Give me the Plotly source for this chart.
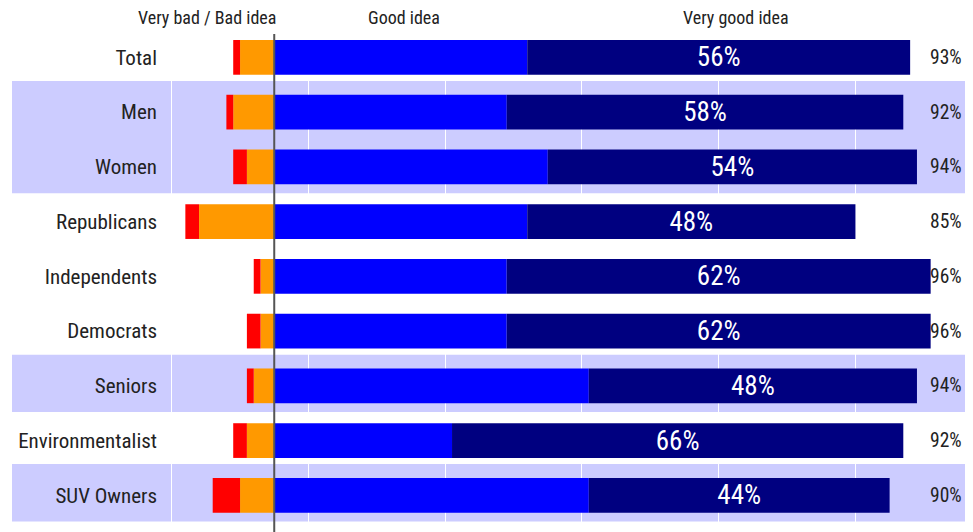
import plotly.graph_objects as go

categories = ["Total", "Men", "Women", "Republicans", "Independents",
              "Democrats", "Seniors", "Environmentalist", "SUV Owners"]
very_bad = [1, 1, 2, 2, 1, 2, 1, 2, 4]
bad = [5, 6, 4, 11, 2, 2, 3, 4, 5]
good = [37, 34, 40, 37, 34, 34, 46, 26, 46]
very_good = [56, 58, 54, 48, 62, 62, 48, 66, 44]
total_good = [93, 92, 94, 85, 96, 96, 94, 92, 90]
headers = ["Very bad / Bad idea", "Good idea", "Very good idea"]
band_groups = [("Men", "Women"), ("Seniors", "Seniors"), ("SUV Owners", "SUV Owners")]

FONT = "Liberation Sans Narrow, Arial Narrow, Roboto Condensed, DejaVu Sans Condensed, sans-serif"
C_RED, C_ORANGE, C_BLUE, C_NAVY = "#FF0000", "#FF9900", "#0000FF", "#000080"
BAND = "#CCCCFF"

fig = go.Figure()
fig.add_trace(go.Bar(y=categories, x=[-v for v in bad], orientation="h",
                     marker=dict(color=C_ORANGE, line=dict(width=0)), name="Bad idea",
                     hoverinfo="skip"))
fig.add_trace(go.Bar(y=categories, x=[-v for v in very_bad], orientation="h",
                     marker=dict(color=C_RED, line=dict(width=0)), name="Very bad idea",
                     hoverinfo="skip"))
fig.add_trace(go.Bar(y=categories, x=good, orientation="h",
                     marker=dict(color=C_BLUE, line=dict(width=0)), name="Good idea",
                     hoverinfo="skip"))
fig.add_trace(go.Bar(y=categories, x=very_good, orientation="h",
                     marker=dict(color=C_NAVY, line=dict(width=0)), name="Very good idea",
                     text=[f"{v}%" for v in very_good], textposition="inside",
                     insidetextanchor="middle", constraintext="none",
                     textfont=dict(color="white", size=27, family=FONT),
                     hoverinfo="skip"))

shapes = []
for a, b in band_groups:
    ia, ib = categories.index(a), categories.index(b)
    shapes.append(dict(type="rect", xref="paper", yref="y", x0=-0.1825, x1=1.02,
                       y0=ia - 0.57, y1=ib + 0.48, fillcolor=BAND,
                       line=dict(width=0), layer="below"))
shapes.append(dict(type="line", xref="x", yref="paper", x0=0, x1=0, y0=0, y1=0.992,
                   line=dict(color="#555555", width=2), layer="above"))

annotations = []
for cat, t in zip(categories, total_good):
    annotations.append(dict(xref="paper", yref="y", x=1.0, y=cat, text=f"{t}%",
                            xanchor="right", yanchor="middle", xshift=6, showarrow=False,
                            font=dict(size=19.5, color="#222222", family=FONT)))
for txt, xp in zip(headers, [0.061, 0.308, 0.722]):
    annotations.append(dict(xref="paper", yref="paper", x=xp, y=1.0, text=txt,
                            xanchor="center", yanchor="middle", yshift=13, showarrow=False,
                            font=dict(size=18, color="#222222", family=FONT)))

fig.update_layout(
    template="none",
    width=965, height=524,
    margin=dict(l=150, r=15, t=22, b=0, autoexpand=False),
    barmode="relative", bargap=0.366,
    showlegend=False,
    plot_bgcolor="rgba(0,0,0,0)", paper_bgcolor="white",
    font=dict(family=FONT, color="#222222"),
    shapes=shapes, annotations=annotations,
    xaxis=dict(range=[-17, 100], tick0=5, dtick=20, showgrid=True, gridcolor="white",
               gridwidth=1, zeroline=False, showticklabels=False, ticks="",
               showline=False, automargin=False),
    yaxis=dict(categoryorder="array", categoryarray=categories,
               range=[8.67, -0.5], showgrid=False, zeroline=False, ticks="",
               showline=False, automargin=False,
               tickfont=dict(size=21, color="#222222", family=FONT)),
)

fig.write_html("out.html")
